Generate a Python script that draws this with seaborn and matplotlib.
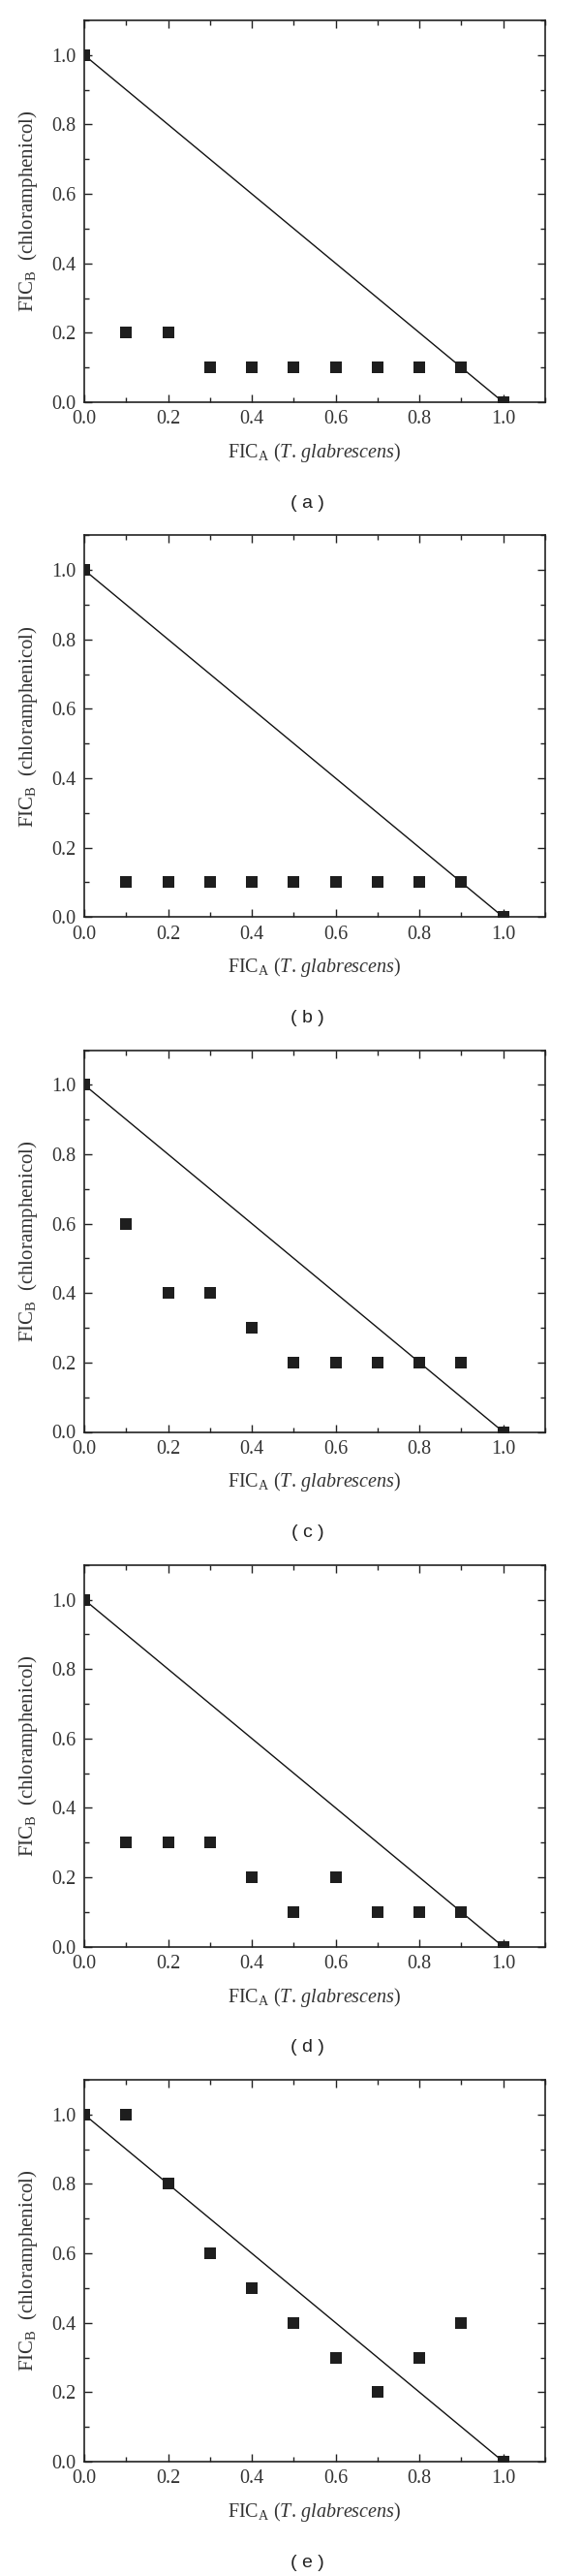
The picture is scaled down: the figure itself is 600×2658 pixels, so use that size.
import numpy as np
import pandas as pd
import matplotlib
matplotlib.use("Agg")
import matplotlib.pyplot as plt
import seaborn as sns
from matplotlib.ticker import MultipleLocator, FormatStrFormatter

sns.set_theme(style="white")
plt.rcParams['font.family'] = ['Liberation Serif', 'DejaVu Serif']
plt.rcParams['mathtext.fontset'] = 'custom'
plt.rcParams['mathtext.rm'] = 'Liberation Serif'
plt.rcParams['mathtext.it'] = 'Liberation Serif:italic'

# datos: FIC de T. glabrescens (A) y cloranfenicol (B)
fic_a = [0.0, 0.1, 0.2, 0.3, 0.4, 0.5, 0.6, 0.7, 0.8, 0.9, 1.0]
fic_b_a = [1.0, 0.2, 0.2, 0.1, 0.1, 0.1, 0.1, 0.1, 0.1, 0.1, 0.0]
fic_b_b = [1.0, 0.1, 0.1, 0.1, 0.1, 0.1, 0.1, 0.1, 0.1, 0.1, 0.0]
fic_b_c = [1.0, 0.6, 0.4, 0.4, 0.3, 0.2, 0.2, 0.2, 0.2, 0.2, 0.0]
fic_b_d = [1.0, 0.3, 0.3, 0.3, 0.2, 0.1, 0.2, 0.1, 0.1, 0.1, 0.0]
fic_b_e = [1.0, 1.0, 0.8, 0.6, 0.5, 0.4, 0.3, 0.2, 0.3, 0.4, 0.0]
paneles = ['a', 'b', 'c', 'd', 'e']
series = [fic_b_a, fic_b_b, fic_b_c, fic_b_d, fic_b_e]

# linea de aditividad
linea_x = [0.0, 1.0]
linea_y = [1.0, 0.0]

W, H = 600, 2658
fig = plt.figure(figsize=(W / 100, H / 100), dpi=100)

ax_left, ax_w, ax_h = 87, 476, 394
periodo = 531.25
top0 = 21

for i, (p, fic_b) in enumerate(zip(paneles, series)):
    top = top0 + i * periodo
    ax = fig.add_axes([ax_left / W, 1 - (top + ax_h) / H, ax_w / W, ax_h / H])
    df = pd.DataFrame({'x': fic_a, 'y': fic_b})
    sns.lineplot(x=linea_x, y=linea_y, ax=ax, color='#111111', linewidth=1.0)
    sns.scatterplot(data=df, x='x', y='y', ax=ax, marker='s', s=85,
                    color='#1e1e1e', edgecolor='#1e1e1e', linewidth=0, zorder=3)
    ax.set_xlim(0, 1.1)
    ax.set_ylim(0, 1.1)
    ax.xaxis.set_major_locator(MultipleLocator(0.2))
    ax.xaxis.set_minor_locator(MultipleLocator(0.1))
    ax.yaxis.set_major_locator(MultipleLocator(0.2))
    ax.yaxis.set_minor_locator(MultipleLocator(0.1))
    ax.xaxis.set_major_formatter(FormatStrFormatter('%.1f'))
    ax.yaxis.set_major_formatter(FormatStrFormatter('%.1f'))
    ax.tick_params(which='both', direction='in', top=True, right=True,
                   bottom=True, left=True, colors='#222222', labelsize=14.5,
                   labelcolor='#333333')
    ax.tick_params(which='major', length=6, width=1, pad=6)
    ax.tick_params(which='minor', length=3.5, width=1)
    for s in ax.spines.values():
        s.set_color('#222222')
        s.set_linewidth(1.2)
    ax.set_xlabel(r'FIC$_\mathrm{A}$ ($T.\, glabrescens$)', fontsize=14.5,
                  color='#333333', labelpad=9)
    ax.set_ylabel(r'FIC$_\mathrm{B}$  (chloramphenicol)', fontsize=15,
                  color='#333333', labelpad=9)
    ax.text(0.485, -0.264, '( %s )' % p, transform=ax.transAxes, ha='center',
            va='center', fontsize=14, family=['Liberation Sans', 'DejaVu Sans'],
            color='#222222')

fig.savefig('out.png', dpi=100, facecolor='white')
